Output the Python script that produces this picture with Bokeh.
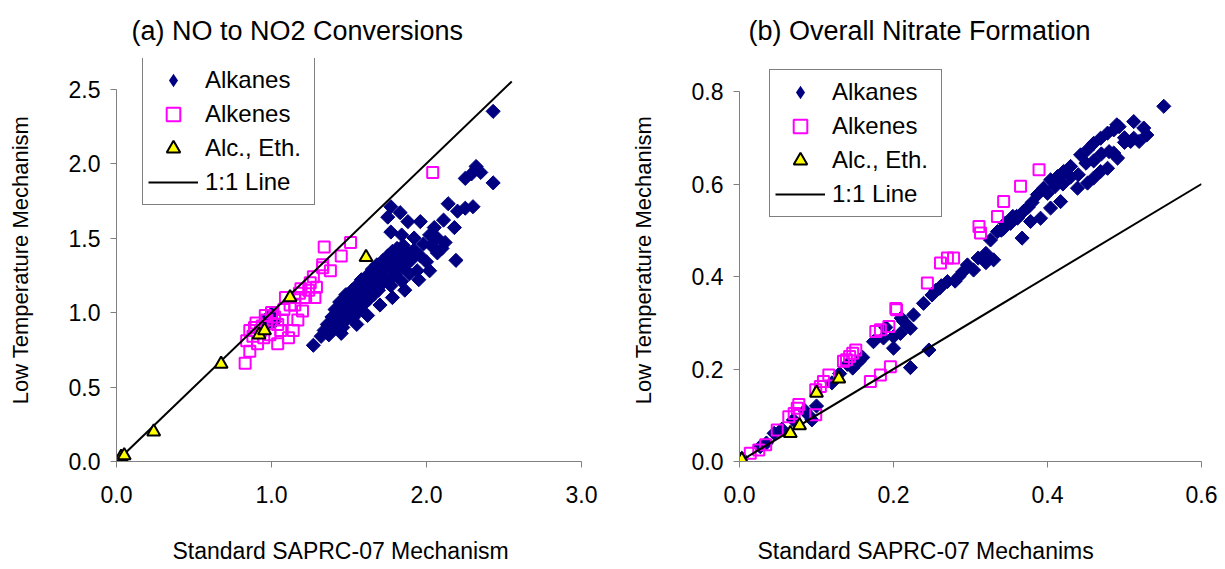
import numpy as np
from bokeh.plotting import figure
from bokeh.layouts import row
from bokeh.models import (FixedTicker, NumeralTickFormatter, Legend, LegendItem,
                          Title, Range1d, LinearAxis, CustomJSTickFormatter)
from bokeh.embed import file_html
from bokeh.resources import INLINE

FONT = "Liberation Sans"
NAVY = "#000080"
MAGENTA = "#FF00FF"
YELLOW = "#FFFF00"

# ---------------- Panel (a): NO to NO2 conversions ----------------
a_alkanes_x = [1.27, 1.32, 1.34, 1.36, 1.37, 1.39, 1.40, 1.41, 1.43, 1.44, 1.45, 1.46, 1.47, 1.48, 1.49,
               1.50, 1.51, 1.52, 1.53, 1.54, 1.55, 1.56, 1.57, 1.58, 1.59, 1.60, 1.61, 1.62, 1.63, 1.64,
               1.65, 1.66, 1.67, 1.68, 1.69, 1.70, 1.71, 1.72, 1.73, 1.74, 1.75, 1.76, 1.77, 1.78, 1.79,
               1.80, 1.81, 1.82, 1.83, 1.84, 1.85, 1.86, 1.88, 1.89, 1.90, 1.92, 1.94, 1.96, 1.98, 2.00,
               2.03, 2.07, 2.10,
               1.45, 1.55, 1.62, 1.70, 1.78, 1.86, 1.95, 2.02,
               1.77, 1.83, 1.75, 1.88, 1.96, 2.05, 1.77, 1.84, 2.14, 2.20, 2.30, 2.25, 2.18, 2.12,
               2.43, 2.32, 2.29, 2.35, 2.43, 2.25,
               2.11, 2.19, 2.07, 2.02, 1.92,
               0.98, 1.02, 1.00, 0.97]
a_alkanes_y = [0.78, 0.84, 0.88, 0.92, 0.85, 0.97, 0.89, 1.02, 0.94, 1.07, 0.99, 0.90, 1.04, 1.12, 0.96,
               1.08, 1.01, 1.15, 0.97, 1.05, 1.18, 1.10, 1.02, 1.22, 1.13, 1.06, 1.19, 1.25, 1.09, 1.16,
               1.29, 1.12, 1.22, 1.32, 1.15, 1.26, 1.19, 1.35, 1.29, 1.22, 1.38, 1.31, 1.18, 1.41, 1.25,
               1.34, 1.43, 1.28, 1.37, 1.21, 1.45, 1.32, 1.40, 1.26, 1.35, 1.42, 1.28, 1.38, 1.46, 1.34,
               1.45, 1.50, 1.43,
               0.86, 0.92, 0.98, 1.05, 1.10, 1.15, 1.22, 1.28,
               1.71, 1.67, 1.64, 1.61, 1.61, 1.57, 1.54, 1.52, 1.73, 1.68, 1.71, 1.70, 1.57, 1.47,
               2.35, 1.98, 1.93, 1.94, 1.87, 1.90,
               1.62, 1.35, 1.40, 1.52, 1.50,
               0.97, 0.94, 0.99, 0.92]

a_alkenes_x = [0.83, 0.86, 0.84, 0.86, 0.90, 0.93, 0.96, 0.97, 0.88, 0.91, 1.04, 1.04, 1.06, 1.11, 1.14,
               1.17, 1.20, 1.09, 1.15, 1.22, 1.28, 1.19, 1.24, 1.29, 1.27, 1.33, 1.38, 1.33, 1.45, 1.34,
               1.51, 2.04, 1.00, 0.94, 1.02, 1.08, 1.12, 0.99, 1.07, 1.25, 1.18, 1.15, 0.89, 0.95]
a_alkenes_y = [0.66, 0.74, 0.81, 0.88, 0.93, 0.88, 0.98, 0.95, 0.84, 0.79, 0.79, 0.92, 0.88, 0.83, 0.88,
               0.95, 1.01, 1.10, 1.10, 1.10, 1.10, 1.16, 1.15, 1.17, 1.24, 1.30, 1.28, 1.32, 1.38, 1.44,
               1.47, 1.94, 1.00, 0.91, 0.97, 1.02, 1.05, 0.85, 0.95, 1.20, 1.13, 1.05, 0.90, 0.83]

a_alceth_x = [0.03, 0.05, 0.24, 0.675, 0.92, 0.955, 1.12, 1.61]
a_alceth_y = [0.03, 0.04, 0.20, 0.655, 0.85, 0.88, 1.10, 1.37]

a_line_x = [0.0, 2.55]
a_line_y = [0.0, 2.55]

# ---------------- Panel (b): overall nitrate formation ----------------
b_alkanes_x = [0.551, 0.512, 0.525, 0.529, 0.512, 0.519, 0.493, 0.486, 0.478, 0.469, 0.460, 0.452, 0.443,
               0.486, 0.491, 0.478, 0.469, 0.460, 0.452, 0.439, 0.430, 0.421, 0.413, 0.404, 0.395, 0.387,
               0.417, 0.404, 0.391, 0.378, 0.369, 0.361, 0.352, 0.343, 0.335, 0.326, 0.367, 0.330,
               0.490, 0.508, 0.450, 0.470, 0.500, 0.430, 0.410, 0.380, 0.360, 0.345,
               0.440, 0.460, 0.480, 0.500, 0.420, 0.400, 0.375, 0.355, 0.340,
               0.296, 0.304, 0.270, 0.285, 0.262, 0.255, 0.239, 0.226, 0.213, 0.222, 0.209, 0.200, 0.246,
               0.222, 0.174, 0.187, 0.155, 0.147, 0.160, 0.140, 0.130, 0.120, 0.094, 0.090, 0.100, 0.085,
               0.045, 0.055, 0.027, 0.003, 0.035, 0.070, 0.200, 0.190, 0.210, 0.250, 0.260, 0.280, 0.290,
               0.310, 0.320, 0.320]
b_alkanes_y = [0.768, 0.735, 0.721, 0.706, 0.699, 0.692, 0.724, 0.717, 0.710, 0.699, 0.688, 0.674, 0.663,
               0.667, 0.656, 0.634, 0.627, 0.613, 0.602, 0.591, 0.638, 0.627, 0.616, 0.609, 0.591, 0.577,
               0.562, 0.548, 0.526, 0.519, 0.541, 0.526, 0.515, 0.504, 0.497, 0.479, 0.483, 0.436,
               0.728, 0.692, 0.645, 0.665, 0.700, 0.615, 0.595, 0.560, 0.530, 0.515,
               0.620, 0.650, 0.670, 0.690, 0.600, 0.580, 0.550, 0.530, 0.500,
               0.425, 0.414, 0.389, 0.400, 0.380, 0.370, 0.342, 0.317, 0.303, 0.288, 0.277, 0.245, 0.241,
               0.203, 0.259, 0.267, 0.216, 0.202, 0.225, 0.210, 0.190, 0.170, 0.090, 0.100, 0.120, 0.110,
               0.061, 0.070, 0.032, 0.007, 0.040, 0.090, 0.270, 0.290, 0.310, 0.360, 0.375, 0.390, 0.410,
               0.440, 0.450, 0.430]

b_alkenes_x = [0.389, 0.365, 0.343, 0.335, 0.311, 0.313, 0.278, 0.270, 0.261, 0.244, 0.203, 0.204, 0.194,
               0.183, 0.177, 0.151, 0.147, 0.143, 0.139, 0.135, 0.116, 0.109, 0.105, 0.099, 0.196, 0.183,
               0.170, 0.075, 0.071, 0.064, 0.077, 0.099, 0.049, 0.034, 0.025, 0.014]
b_alkenes_y = [0.631, 0.595, 0.562, 0.530, 0.508, 0.494, 0.440, 0.440, 0.429, 0.386, 0.331, 0.328, 0.292,
               0.285, 0.281, 0.241, 0.234, 0.227, 0.220, 0.217, 0.187, 0.173, 0.162, 0.155, 0.205, 0.187,
               0.173, 0.115, 0.104, 0.097, 0.123, 0.101, 0.068, 0.036, 0.025, 0.018]

b_alceth_x = [0.003, 0.066, 0.078, 0.100, 0.129]
b_alceth_y = [0.004, 0.061, 0.078, 0.148, 0.179]

b_line_x = [0.0, 0.6]
b_line_y = [0.0, 0.6]

LEGEND_LABELS = ["Alkanes", "Alkenes", "Alc., Eth.", "1:1 Line"]


def make_panel(title, xlabel, ylabel, xr, yr, ybounds, xticks, yticks,
               alk, ale, alc, line, frame_w, borders, legend_loc, title_offset, xlabel_offset):
    bl, br = borders
    p = figure(frame_width=frame_w, frame_height=403,
               x_range=Range1d(*xr), y_range=Range1d(*yr),
               output_backend="svg", toolbar_location=None,
               min_border_left=bl, min_border_right=br,
               min_border_top=58, min_border_bottom=106)
    p.outline_line_color = None
    p.xgrid.visible = False
    p.ygrid.visible = False
    p.background_fill_color = "white"
    p.border_fill_color = "white"

    p.title.text = title
    p.title.text_font = FONT
    p.title.text_font_size = "27px"
    p.title.text_font_style = "normal"
    p.title.text_color = "black"
    p.title.align = "left"
    p.title.offset = title_offset
    p.title.standoff = 26

    for ax in (p.xaxis[0], p.yaxis[0]):
        ax.axis_line_color = "#808080"
        ax.axis_line_width = 1
        ax.major_tick_line_color = "#808080"
        ax.minor_tick_line_color = None
        ax.major_tick_out = 6
        ax.major_tick_in = 0
        ax.major_label_text_font = FONT
        ax.major_label_text_font_size = "23px"
        ax.major_label_text_color = "black"
        ax.formatter = NumeralTickFormatter(format="0.0")
    p.xaxis[0].ticker = FixedTicker(ticks=xticks)
    p.yaxis[0].ticker = FixedTicker(ticks=yticks)
    p.yaxis[0].bounds = ybounds
    p.xaxis[0].major_label_standoff = 18
    p.yaxis[0].major_label_standoff = 10

    p.yaxis[0].axis_label = ylabel
    p.yaxis[0].axis_label_text_font = FONT
    p.yaxis[0].axis_label_text_font_size = "22px"
    p.yaxis[0].axis_label_text_font_style = "normal"
    p.yaxis[0].axis_label_text_color = "black"
    p.yaxis[0].axis_label_standoff = 33

    # blank band (no visible line, tick or label) between tick labels and the axis title
    spacer = LinearAxis(ticker=FixedTicker(ticks=[xr[0]]),
                        formatter=CustomJSTickFormatter(code="return ''"),
                        axis_line_color=None,
                        major_tick_line_color=None, minor_tick_line_color=None,
                        major_tick_out=30, major_tick_in=0, minor_tick_out=0,
                        major_label_standoff=0, major_label_text_font_size="1px")
    p.add_layout(spacer, "below")
    p.add_layout(Title(text=xlabel, align="left", offset=xlabel_offset,
                       text_font=FONT, text_font_size="23px", text_font_style="normal",
                       text_color="black", standoff=0), "below")

    r_alk = p.scatter(alk[0], alk[1], marker="square", angle=np.pi / 4, size=10,
                      fill_color=NAVY, line_color=NAVY, line_width=1)
    r_ale = p.scatter(ale[0], ale[1], marker="square", size=11,
                      fill_color=None, line_color=MAGENTA, line_width=2)
    r_line = p.line(line[0], line[1], line_color="black", line_width=2)
    r_alc = p.scatter(alc[0], alc[1], marker="triangle", size=13,
                      fill_color=YELLOW, line_color="black", line_width=2)

    # zero-size copy of the alkanes so the key shows an upright diamond
    d_alk = p.scatter(alk[0], alk[1], marker="diamond", size=0,
                      fill_color=NAVY, line_color=NAVY, line_width=0)

    legend = Legend(items=[LegendItem(label=LEGEND_LABELS[0], renderers=[d_alk]),
                           LegendItem(label=LEGEND_LABELS[1], renderers=[r_ale]),
                           LegendItem(label=LEGEND_LABELS[2], renderers=[r_alc]),
                           LegendItem(label=LEGEND_LABELS[3], renderers=[r_line])],
                    location=legend_loc,
                    border_line_color="black", border_line_width=1,
                    background_fill_color="white", background_fill_alpha=1.0,
                    padding=5, spacing=0, margin=0,
                    glyph_width=50, glyph_height=34, label_height=34, label_width=104,
                    label_standoff=7,
                    label_text_font=FONT, label_text_font_size="24px",
                    label_text_color="black")
    p.add_layout(legend)
    return p


p1 = make_panel("(a) NO to NO2 Conversions", "Standard SAPRC-07 Mechanism",
                "Low Temperature Mechanism",
                (0.0, 3.0), (0.0, 403 / 149), (0.0, 2.5),
                [0.0, 1.0, 2.0, 3.0], [0.0, 0.5, 1.0, 1.5, 2.0, 2.5],
                (a_alkanes_x, a_alkanes_y), (a_alkenes_x, a_alkenes_y),
                (a_alceth_x, a_alceth_y), (a_line_x, a_line_y),
                465, (116, 40), (26, 256), 15, 56)

p2 = make_panel("(b) Overall Nitrate Formation", "Standard SAPRC-07 Mechanims",
                "Low Temperature Mechanism",
                (0.0, 0.6), (0.0, 403 / 462.5), (0.0, 0.8),
                [0.0, 0.2, 0.4, 0.6], [0.0, 0.2, 0.4, 0.6, 0.8],
                (b_alkanes_x, b_alkanes_y), (b_alkenes_x, b_alkenes_y),
                (b_alceth_x, b_alceth_y), (b_line_x, b_line_y),
                462, (118, 16), (30, 244), 9, 18)

layout = row(p1, p2)
open("out.html", "w").write(file_html(layout, INLINE))
